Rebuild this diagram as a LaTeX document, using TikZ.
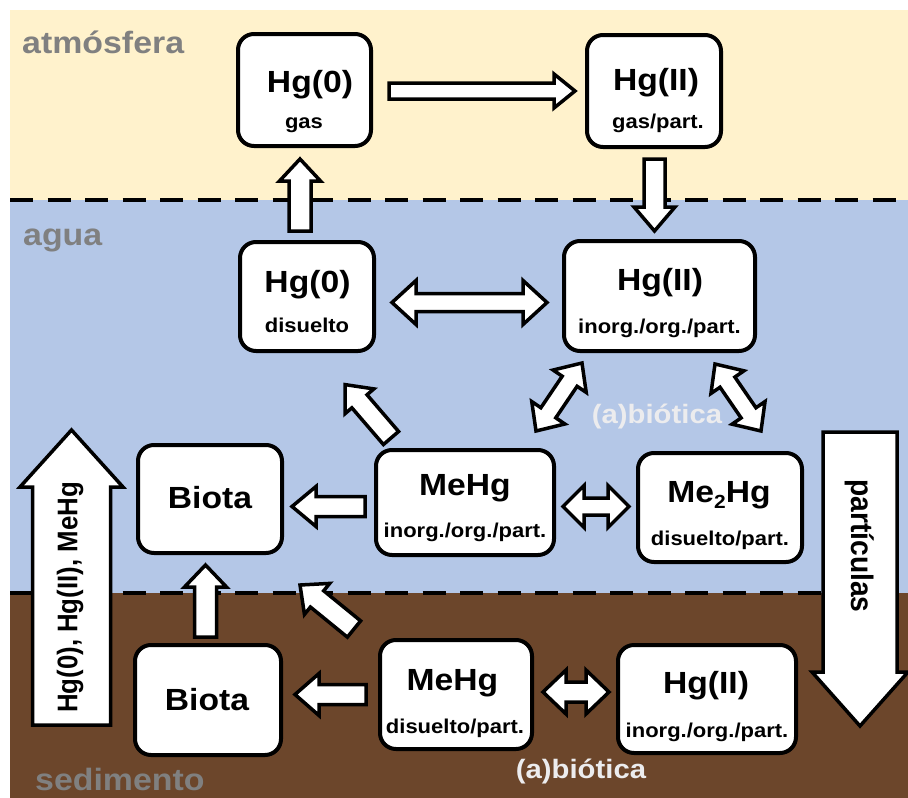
\documentclass[tikz,border=0pt]{standalone}
\usepackage{fontspec}
\setmainfont{Liberation Sans}
\newfontfamily\fs{Liberation Sans}[FakeStretch=1.1]
\newfontfamily\fr{Liberation Sans}
\usetikzlibrary{calc}
\definecolor{beige}{RGB}{255,242,204}
\definecolor{wblue}{RGB}{180,199,231}
\definecolor{sbrown}{RGB}{108,70,43}
\definecolor{lgray}{RGB}{128,128,128}
\definecolor{ltext}{RGB}{236,236,238}
\newcommand\arrsetup[2]{%
  \path (#1); \pgfgetlastxy{\ax}{\ay}%
  \path (#2); \pgfgetlastxy{\bx}{\by}%
  \pgfmathsetmacro\aang{atan2(\by-\ay,\bx-\ax)}%
  \pgfmathsetmacro\alen{veclen(\bx-\ax,\by-\ay)}}
\newcommand\sarr[5]{\arrsetup{#1}{#2}%
  \begin{scope}[shift={(\ax,\ay)}, rotate=\aang]
  \draw[blk] (0,-#3) -- (\alen-#5,-#3) -- (\alen-#5,-#4) -- (\alen,0) -- (\alen-#5,#4) -- (\alen-#5,#3) -- (0,#3) -- cycle;
  \end{scope}}
\newcommand\darr[5]{\arrsetup{#1}{#2}%
  \begin{scope}[shift={(\ax,\ay)}, rotate=\aang]
  \draw[blk] (0,0) -- (#5,-#4) -- (#5,-#3) -- (\alen-#5,-#3) -- (\alen-#5,-#4) -- (\alen,0) -- (\alen-#5,#4) -- (\alen-#5,#3) -- (#5,#3) -- (#5,#4) -- cycle;
  \end{scope}}
\begin{document}
\begin{tikzpicture}[x=1pt,y=-1pt,
  box/.style={draw, line width=4pt, rounded corners=16pt, fill=white, inner sep=0pt},
  blk/.style={draw, fill=white, line width=3.5pt, line join=miter},
  mt/.style={anchor=base, inner sep=0pt, font=\fs\bfseries\fontsize{30.6}{30.6}\selectfont},
  st/.style={anchor=base, inner sep=0pt, font=\fs\bfseries\fontsize{20}{20}\selectfont},
  zone/.style={anchor=base west, inner sep=0pt, text=lgray, font=\fs\bfseries\fontsize{30.8}{30.8}\selectfont},
  abt/.style={anchor=base, inner sep=0pt, text=ltext, font=\fs\bfseries\fontsize{26.6}{26.6}\selectfont},
  rot/.style={inner sep=0pt, font=\fr\bfseries\fontsize{#1}{#1}\selectfont},
  sep/.style={line width=4.5pt, dash pattern=on 23pt off 14.5pt}]
\useasboundingbox (0,0) rectangle (908,798);
% zones
\fill[beige] (10,10) rectangle (908,200);
\fill[wblue] (10,200) rectangle (908,593);
\fill[sbrown] (10,593) rectangle (908,798);
\coordinate (l1a) at (10,200); \coordinate (l1b) at (908,200);
\coordinate (l2a) at (10,593); \coordinate (l2b) at (908,593);
\draw[sep] (l1a) -- (l1b);
\draw[sep] (l2a) -- (l2b);
\node[zone] (zatm) at (22,53) {atmósfera};
\node[zone] (zagua) at (23,245) {agua};
\node[zone] (zsed) at (35,790) {sedimento};
% boxes
\node[box, minimum width=133pt, minimum height=112pt] (g0a) at (304.5,90) {};
\node[box, minimum width=134pt, minimum height=112pt] (g2a) at (654,91) {};
\node[box, minimum width=134pt, minimum height=109pt] (g0w) at (307,296.5) {};
\node[box, minimum width=191pt, minimum height=110pt] (g2w) at (659.5,296) {};
\node[box, minimum width=144pt, minimum height=108pt] (biow) at (210,499) {};
\node[box, minimum width=178pt, minimum height=105pt] (mehgw) at (465,502.5) {};
\node[box, minimum width=164pt, minimum height=109pt] (me2hg) at (720,507.5) {};
\node[box, minimum width=146pt, minimum height=110pt] (bios) at (208,700) {};
\node[box, minimum width=152pt, minimum height=109pt] (mehgs) at (456,694.5) {};
\node[box, minimum width=178pt, minimum height=108pt] (g2s) at (707,699) {};
% box texts
\node[mt] (g0a-m) at (310,92) {Hg(0)};
\node[st] (g0a-s) at (304,128) {gas};
\node[mt] (g2a-m) at (656,90) {Hg(II)};
\node[st] (g2a-s) at (658,128) {gas/part.};
\node[mt] (g0w-m) at (307.5,292) {Hg(0)};
\node[st] (g0w-s) at (307,332) {disuelto};
\node[mt] (g2w-m) at (660,290) {Hg(II)};
\node[st] (g2w-s) at (659.5,333) {inorg./org./part.};
\node[mt] (biow-m) at (210,508) {Biota};
\node[mt] (mehgw-m) at (465,495) {MeHg};
\node[st] (mehgw-s) at (465,537) {inorg./org./part.};
\node[mt] (me2hg-m) at (719,502) {Me\raisebox{-6pt}{\fontsize{19}{19}\selectfont 2}Hg};
\node[st] (me2hg-s) at (720,545) {disuelto/part.};
\node[mt] (bios-m) at (207,710) {Biota};
\node[mt] (mehgs-m) at (452.5,690) {MeHg};
\node[st] (mehgs-s) at (455,733) {disuelto/part.};
\node[mt] (g2s-m) at (706,693) {Hg(II)};
\node[st] (g2s-s) at (707,737) {inorg./org./part.};
% arrow end points
\coordinate (a1s) at (389,91);    \coordinate (a1e) at (575,91);
\coordinate (a2s) at (654.5,159); \coordinate (a2e) at (654.5,231);
\coordinate (a3s) at (300,231);   \coordinate (a3e) at (300,159);
\coordinate (a4s) at (392,302.5); \coordinate (a4e) at (547,302.5);
\coordinate (a5s) at (391,438);   \coordinate (a5e) at (345,384.5);
\coordinate (a6s) at (536,431);   \coordinate (a6e) at (582,363);
\coordinate (a7s) at (715,364);   \coordinate (a7e) at (761,431);
\coordinate (a8s) at (365,506.5); \coordinate (a8e) at (292,506.5);
\coordinate (a9s) at (563,506.5); \coordinate (a9e) at (629,506.5);
\coordinate (a10s) at (205.5,637); \coordinate (a10e) at (205.5,565);
\coordinate (a11s) at (354,629);  \coordinate (a11e) at (300,585);
\coordinate (a12s) at (366,694.5); \coordinate (a12e) at (295,694.5);
\coordinate (a13s) at (543,692);  \coordinate (a13e) at (609,692);
\coordinate (a14s) at (71.5,725); \coordinate (a14e) at (71.5,430);
\coordinate (a15s) at (860,432);  \coordinate (a15e) at (860,726);
% arrows
\sarr{a1s}{a1e}{8}{17}{21}
\sarr{a2s}{a2e}{10.5}{20.5}{24}
\sarr{a3s}{a3e}{11}{20.5}{22}
\darr{a4s}{a4e}{9}{22}{24}
\sarr{a5s}{a5e}{10}{19}{22}
\darr{a6s}{a6e}{9}{20}{22}
\darr{a7s}{a7e}{9}{20}{22}
\sarr{a8s}{a8e}{10}{20}{24}
\darr{a9s}{a9e}{8.5}{21}{21}
\sarr{a10s}{a10e}{11}{21}{22}
\sarr{a11s}{a11e}{10.5}{20}{22}
\sarr{a12s}{a12e}{10}{21}{24}
\darr{a13s}{a13e}{10}{22}{23}
\sarr{a14s}{a14e}{39}{51.5}{57}
\sarr{a15s}{a15e}{37}{48}{54}
% other labels
\node[abt] (ab1) at (657,423) {(a)biótica};
\node[abt] (ab2) at (581,778) {(a)biótica};
\node[rot=25.8, rotate=90, yscale=1.1] (lt) at (70,597.5) {Hg(0), Hg(II), MeHg};
\node[rot=28.2, rotate=-90, yscale=1.1] (rt) at (860,546) {partículas};
\end{tikzpicture}
\end{document}
